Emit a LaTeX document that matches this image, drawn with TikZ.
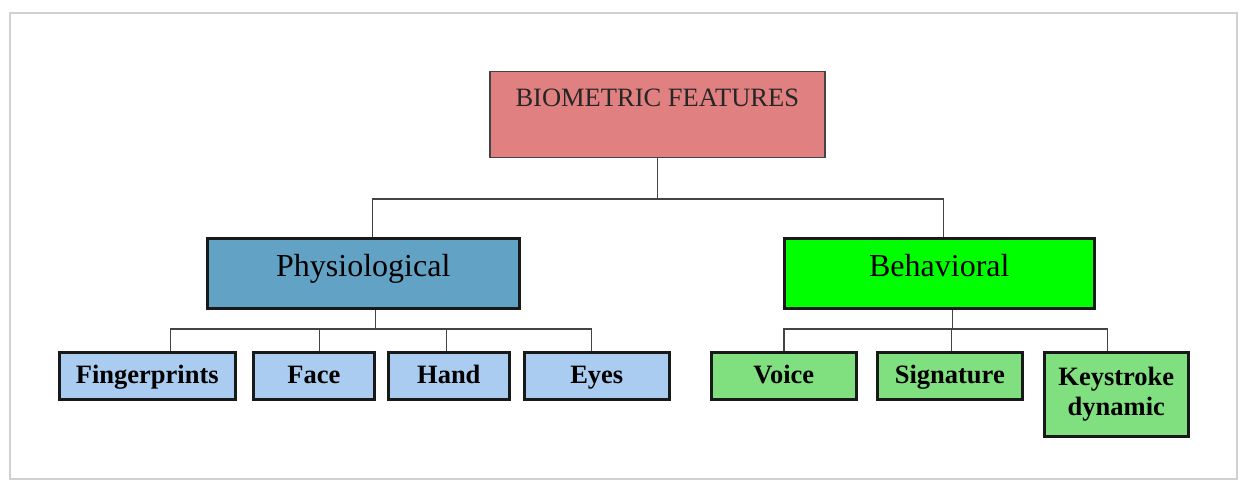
\documentclass[tikz,border=0pt]{standalone}
\usepackage{fontspec}
\setmainfont{Liberation Serif}
\definecolor{topfill}{HTML}{E08080}
\definecolor{physfill}{HTML}{62A2C4}
\definecolor{behfill}{HTML}{00FF00}
\definecolor{bluekid}{HTML}{A9CCF0}
\definecolor{greenkid}{HTML}{80E080}
\definecolor{linegray}{HTML}{444444}
\begin{document}
\begin{tikzpicture}[x=1pt,y=-1pt,
  topbox/.style={draw=linegray, line width=1.5pt, fill=topfill, inner sep=0pt,
    minimum width=335pt, text height=35pt, text depth=51pt, anchor=north west,
    font=\fontsize{26.5}{30}\selectfont, text=black!85},
  midbox/.style={draw=black!90, line width=2.6pt, inner sep=0pt,
    minimum width=312pt, text height=38pt, text depth=32pt, anchor=north west,
    font=\fontsize{32}{36}\selectfont},
  kidbox/.style={draw=black!90, line width=2.6pt, inner sep=0pt,
    text height=31pt, text depth=16pt, anchor=north west,
    font=\fontsize{26.5}{30}\selectfont\bfseries},
  conn/.style={draw=linegray, line width=1.4pt}
]
\useasboundingbox (0,0) rectangle (1239,481);
\draw[draw=black!18, line width=2.5pt] (10,13) rectangle (1237,479);
\fill[white] (11.5,14.5) rectangle (1235.5,477.5);

\node[topbox] (top) at (489,71) {BIOMETRIC FEATURES};
\node[midbox, fill=physfill] (phys) at (206,237) {Physiological};
\node[midbox, fill=behfill, minimum width=310pt] (beh) at (783,237) {Behavioral};

\node[kidbox, fill=bluekid, minimum width=176pt] (fing) at (58,351) {Fingerprints};
\node[kidbox, fill=bluekid, minimum width=121pt] (face) at (252,351) {Face};
\node[kidbox, fill=bluekid, minimum width=121pt] (hand) at (387,351) {Hand};
\node[kidbox, fill=bluekid, minimum width=145pt] (eyes) at (523,351) {Eyes};

\node[kidbox, fill=greenkid, minimum width=145pt] (voice) at (710,351) {Voice};
\node[kidbox, fill=greenkid, minimum width=145pt] (sign) at (876,351) {Signature};
\node[draw=black!90, line width=2.6pt, inner sep=0pt, fill=greenkid, anchor=north west,
  minimum width=144pt, minimum height=84pt, align=center,
  font=\fontsize{26.5}{30}\selectfont\bfseries] (key) at (1043,351) {Keystroke\\dynamic};

\coordinate (bus1) at (656.5,199);
\coordinate (bus2) at (374,329);
\coordinate (bus3) at (951,329);

\draw[conn] (top.south) -- (top.south |- bus1);
\draw[conn] ([xshift=9pt]phys.north) |- (bus1);
\draw[conn] ([xshift=4pt]beh.north) |- (bus1);

\draw[conn] ([xshift=12pt]phys.south) -- ([xshift=12pt]phys.south |- bus2);
\draw[conn] ([xshift=23pt]fing.north) |- (bus2);
\draw[conn] ([xshift=5.5pt]face.north) |- (bus2);
\draw[conn] ([xshift=-2.5pt]hand.north) |- (bus2);
\draw[conn] ([xshift=-5.5pt]eyes.north) |- (bus2);

\draw[conn] ([xshift=13pt]beh.south) -- ([xshift=13pt]beh.south |- bus3);
\draw[conn] (voice.north) |- (bus3);
\draw[conn] ([xshift=1.5pt]sign.north) |- (bus3);
\draw[conn] ([xshift=-9pt]key.north) |- (bus3);
\end{tikzpicture}
\end{document}
